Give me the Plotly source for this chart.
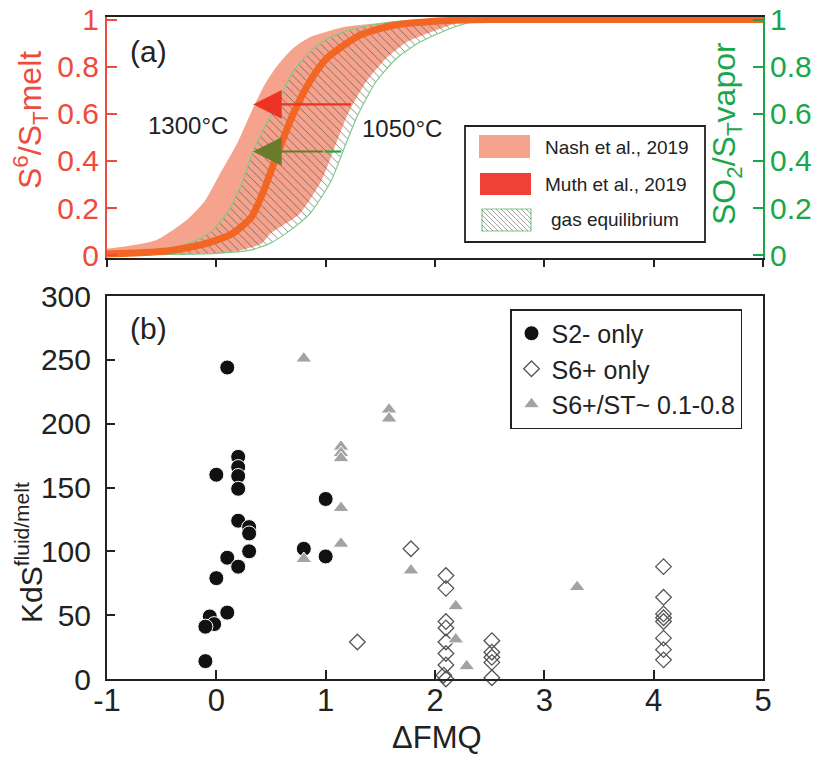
import plotly.graph_objects as go

# ---------------- data: panel (a) curves (x = dFMQ, y = fraction) ----------------
nash_left_x = [-1.0, -0.56, -0.26, -0.105, 0.047, 0.2, 0.35, 0.45, 0.55, 0.70, 0.854, 1.16, 1.61, 2.0]
nash_left_y = [0.027, 0.062, 0.154, 0.23, 0.357, 0.483, 0.638, 0.73, 0.80, 0.877, 0.925, 0.968, 0.99, 1.0]
nash_right_x = [-1.0, -0.3, 0.1, 0.41, 0.49, 0.76, 0.96, 1.08, 1.20, 1.37, 1.55, 1.74, 2.04, 2.28]
nash_right_y = [0.0, 0.003, 0.01, 0.048, 0.09, 0.175, 0.315, 0.455, 0.596, 0.736, 0.834, 0.904, 0.96, 1.0]

gas_left_x = [-1.0, -0.7, -0.41, -0.2, -0.05, 0.1, 0.22, 0.336, 0.45, 0.58, 0.70, 0.854, 1.0, 1.16, 1.4, 1.61, 2.0]
gas_left_y = [0.005, 0.012, 0.03, 0.06, 0.10, 0.18, 0.29, 0.44, 0.55, 0.666, 0.778, 0.862, 0.915, 0.947, 0.975, 0.99, 1.0]
gas_right_x = [-1.0, -0.4, 0.0, 0.3, 0.49, 0.66, 0.854, 1.05, 1.17, 1.295, 1.46, 1.645, 1.86, 2.13, 2.34, 2.6]
gas_right_y = [0.0, 0.003, 0.008, 0.02, 0.05, 0.1, 0.175, 0.315, 0.455, 0.596, 0.736, 0.834, 0.904, 0.96, 0.99, 1.0]

muth_x = [-1.0, -0.7, -0.41, -0.105, 0.14, 0.32, 0.43, 0.55, 0.70, 0.854, 1.006, 1.31, 1.61, 2.07, 2.5, 3.0, 4.0, 5.0]
muth_y = [0.005, 0.01, 0.02, 0.048, 0.09, 0.16, 0.27, 0.42, 0.596, 0.736, 0.834, 0.933, 0.975, 0.995, 1.0, 1.0, 1.0, 1.0]

# arrows (temperature shift) in data units
red_arrow = dict(x_from=1.246, x_to=0.336, y=0.64)
green_arrow = dict(x_from=1.142, x_mid=0.99, x_to=0.336, y=0.44)

# ---------------- data: panel (b) ----------------
s2_x = [0.1, 0.0, 0.2, 0.2, 0.2, 0.2, 0.2, 0.3, 0.3, 0.3, 0.1, 0.2, 0.0, 0.1, -0.06, -0.02, -0.1, -0.1, 1.0, 0.8, 1.0]
s2_y = [244, 160, 174, 166, 159, 149, 124, 119, 114, 100, 95, 88, 79, 52, 49, 43, 41, 14, 141, 102, 96]

s6_x = [1.29, 1.78, 2.1, 2.1, 2.1, 2.1, 2.1, 2.1, 2.1, 2.08, 2.1, 2.52, 2.52, 2.52, 2.52, 2.52,
        4.09, 4.09, 4.09, 4.09, 4.09, 4.09, 4.09, 4.09]
s6_y = [29, 102, 81, 71, 45, 40, 29, 20, 11, 3, 0, 30, 21, 17, 13, 1,
        88, 64, 51, 48, 45, 32, 23, 15]

mix_x = [0.8, 1.58, 1.58, 1.14, 1.14, 1.14, 1.14, 1.14, 0.8, 1.78, 2.19, 2.19, 2.29, 3.3]
mix_y = [251, 211, 204, 182, 177, 173, 134, 106, 94, 85, 57, 31, 10, 72]

x_ticks = [-1, 0, 1, 2, 3, 4, 5]
x_ticktext = ["-1", "0", "1", "2", "3", "4", "5"]
top_y_ticks = [0, 0.2, 0.4, 0.6, 0.8, 1]
top_y_ticktext = ["0", "0.2", "0.4", "0.6", "0.8", "1"]
bot_y_ticks = [0, 50, 100, 150, 200, 250, 300]

# ---------------- styling ----------------
W, H = 820, 757
FONT = "Liberation Sans, Arial, sans-serif"
RED = "#EF4B3C"
GREEN = "#1AA64A"
SALMON = "#F5A38D"
ORANGE = "#F26522"
DARK = "#222222"


def PX(x):
    return x / W


def PY(y):
    return 1 - y / H


fig = go.Figure()

# Nash band
fig.add_trace(go.Scatter(
    x=nash_left_x + nash_right_x[::-1], y=nash_left_y + nash_right_y[::-1],
    xaxis="x", yaxis="y", mode="lines", fill="toself", fillcolor=SALMON,
    line=dict(width=0, color=SALMON, shape="spline", smoothing=0.6),
    showlegend=False, hoverinfo="skip"))

# gas equilibrium hatched band
fig.add_trace(go.Scatter(
    x=gas_left_x + gas_right_x[::-1], y=gas_left_y + gas_right_y[::-1],
    xaxis="x", yaxis="y", mode="lines", fill="toself", fillcolor="rgba(0,0,0,0)",
    fillpattern=dict(shape="\\", fgcolor="rgba(80,80,80,0.75)", bgcolor="rgba(0,0,0,0)",
                     size=6, solidity=0.15, fillmode="replace"),
    line=dict(width=1.2, color="#7CCB8C", shape="spline", smoothing=0.6),
    showlegend=False, hoverinfo="skip"))

# Muth curve
fig.add_trace(go.Scatter(
    x=muth_x, y=muth_y, xaxis="x", yaxis="y", mode="lines",
    line=dict(width=7, color=ORANGE, shape="spline", smoothing=0.6),
    showlegend=False, hoverinfo="skip"))

# dummy on right axis so it renders
fig.add_trace(go.Scatter(x=[None], y=[None], xaxis="x", yaxis="y2", showlegend=False))

# panel (b)
fig.add_trace(go.Scatter(
    x=s2_x, y=s2_y, xaxis="x2", yaxis="y3", mode="markers", name="S2- only",
    marker=dict(symbol="circle", size=15, color="#111111", line=dict(color="white", width=1)),
    cliponaxis=False))
fig.add_trace(go.Scatter(
    x=s6_x, y=s6_y, xaxis="x2", yaxis="y3", mode="markers", name="S6+ only",
    marker=dict(symbol="diamond-open", size=12, color="#555555", line=dict(color="#555555", width=1.3)),
    cliponaxis=False))
fig.add_trace(go.Scatter(
    x=mix_x, y=mix_y, xaxis="x2", yaxis="y3", mode="markers", name="S6+/ST~ 0.1-0.8",
    marker=dict(symbol="triangle-up", size=14, color="#A3A3A3", line=dict(color="white", width=1)),
    cliponaxis=False))

xdom = [PX(107), PX(763)]
fig.update_layout(
    template="none",
    width=W, height=H, autosize=False,
    margin=dict(l=0, r=0, t=0, b=0, autoexpand=False),
    paper_bgcolor="white", plot_bgcolor="white",
    font=dict(family=FONT, color=DARK),
    xaxis=dict(domain=xdom, anchor="y", range=[-1, 5], tickvals=x_ticks, showticklabels=False,
               ticks="outside", ticklen=7, tickwidth=1.5, tickcolor=DARK, automargin=False,
               showline=True, linecolor=DARK, linewidth=2, mirror=True,
               showgrid=False, zeroline=False),
    yaxis=dict(domain=[PY(258), PY(17)], anchor="x", range=[-0.012, 1.011], tickvals=top_y_ticks,
               ticktext=top_y_ticktext, automargin=False,
               ticks="inside", ticklen=10, tickwidth=1.5, tickcolor=RED,
               tickfont=dict(size=30, color=RED, family=FONT), ticklabelstandoff=0,
               showline=True, linecolor=RED, linewidth=2,
               showgrid=False, zeroline=False),
    yaxis2=dict(overlaying="y", side="right", anchor="x", range=[-0.012, 1.011], tickvals=top_y_ticks,
                ticktext=top_y_ticktext, automargin=False,
                ticks="inside", ticklen=10, tickwidth=1.5, tickcolor=GREEN,
                tickfont=dict(size=30, color=GREEN, family=FONT), ticklabelstandoff=-1,
                showline=True, linecolor=GREEN, linewidth=2,
                showgrid=False, zeroline=False),
    xaxis2=dict(domain=xdom, anchor="y3", range=[-1, 5], tickvals=x_ticks, ticktext=x_ticktext,
                ticks="inside", ticklen=9, tickwidth=1.5, tickcolor=DARK, automargin=False,
                tickfont=dict(size=31, color=DARK, family=FONT), ticklabelstandoff=-7,
                showline=True, linecolor=DARK, linewidth=2, mirror=True,
                showgrid=False, zeroline=False),
    yaxis3=dict(domain=[PY(679), PY(296)], anchor="x2", range=[0, 300], tickvals=bot_y_ticks,
                ticks="inside", ticklen=8, tickwidth=1.5, tickcolor=DARK, automargin=False,
                tickfont=dict(size=30, color=DARK, family=FONT), ticklabelstandoff=8,
                showline=True, linecolor=DARK, linewidth=2, mirror=True,
                showgrid=False, zeroline=False),
    legend=dict(x=PX(510), y=PY(309), xanchor="left", yanchor="top",
                bgcolor="white", bordercolor=DARK, borderwidth=1.5,
                font=dict(size=25, family=FONT, color=DARK), tracegroupgap=0),
    showlegend=True,
)

anns = []
# arrows
anns.append(dict(x=red_arrow["x_to"], y=red_arrow["y"], ax=red_arrow["x_from"], ay=red_arrow["y"],
                 xref="x", yref="y", axref="x", ayref="y", text="", showarrow=True,
                 arrowhead=2, arrowsize=2.6, arrowwidth=2.2, arrowcolor="#EE3224"))
anns.append(dict(x=green_arrow["x_to"], y=green_arrow["y"], ax=green_arrow["x_mid"], ay=green_arrow["y"],
                 xref="x", yref="y", axref="x", ayref="y", text="", showarrow=True,
                 arrowhead=2, arrowsize=2.6, arrowwidth=2.2, arrowcolor="#6B7B2C"))
shapes = [dict(type="line", xref="x", yref="y", x0=green_arrow["x_mid"], x1=green_arrow["x_from"],
               y0=green_arrow["y"], y1=green_arrow["y"], line=dict(color="#21A84A", width=2.2))]


def txt(x, y, s, size, color=DARK, angle=0, xanchor="center", yanchor="middle"):
    anns.append(dict(x=PX(x), y=PY(y), xref="paper", yref="paper", text=s, showarrow=False,
                     xanchor=xanchor, yanchor=yanchor, textangle=angle,
                     font=dict(size=size, color=color, family=FONT)))


txt(148, 51, "(a)", 30)
txt(148, 328, "(b)", 30)
txt(188, 125, "1300°C", 24)
txt(402, 129, "1050°C", 24)
txt(30, 120, "S<sup>6</sup>/S<sub>T</sub>melt", 32, RED, -90)
txt(727, 134, "SO<sub>2</sub>/S<sub>T</sub>vapor", 32, GREEN, -90)
txt(29, 553, "KdS<sup>fluid/melt</sup>", 30, DARK, -90)
txt(437, 757, "ΔFMQ", 31, DARK, 0, "center", "bottom")

# manual legend for panel (a)
shapes.append(dict(type="rect", xref="paper", yref="paper", x0=PX(465), x1=PX(705), y0=PY(242), y1=PY(126),
                   line=dict(color=DARK, width=1.8), fillcolor="white"))
shapes.append(dict(type="rect", xref="paper", yref="paper", x0=PX(479), x1=PX(530), y0=PY(158), y1=PY(135),
                   line=dict(width=0), fillcolor=SALMON))
shapes.append(dict(type="rect", xref="paper", yref="paper", x0=PX(480), x1=PX(531), y0=PY(195), y1=PY(173),
                   line=dict(width=0), fillcolor="#EF4136"))
gx0, gx1, gy0, gy1 = 482, 531, 209, 231
shapes.append(dict(type="rect", xref="paper", yref="paper", x0=PX(gx0), x1=PX(gx1), y0=PY(gy1), y1=PY(gy0),
                   line=dict(color="#7CCB8C", width=1.2), fillcolor="white"))
# hatch lines "\" : y - x = c
c = gy0 - gx1
while c < gy1 - gx0:
    pts = []
    for xx in (gx0, gx1):
        yy = xx + c
        if gy0 <= yy <= gy1:
            pts.append((xx, yy))
    for yy in (gy0, gy1):
        xx = yy - c
        if gx0 <= xx <= gx1:
            pts.append((xx, yy))
    pts = sorted(set(pts))
    if len(pts) >= 2:
        (ax_, ay_), (bx_, by_) = pts[0], pts[-1]
        shapes.append(dict(type="line", xref="paper", yref="paper", x0=PX(ax_), y0=PY(ay_),
                           x1=PX(bx_), y1=PY(by_), line=dict(color="rgba(90,90,90,0.7)", width=0.8)))
    c += 5

txt(543, 147, "Nash et al., 2019", 19, DARK, 0, "left")
txt(543, 184, "Muth et al., 2019", 19, DARK, 0, "left")
txt(549, 220, "gas equilibrium", 19, DARK, 0, "left")

fig.update_layout(annotations=anns, shapes=shapes)
fig.write_html("out.html")
